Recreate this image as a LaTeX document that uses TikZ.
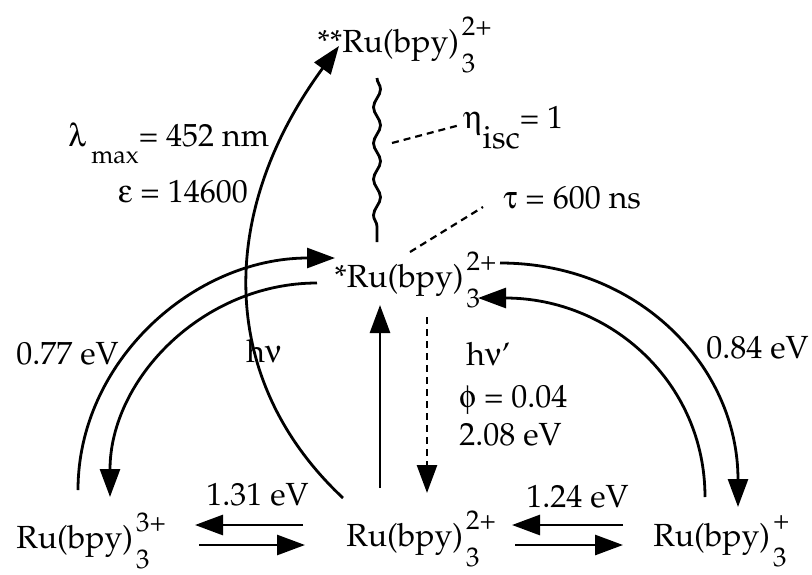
\documentclass[tikz,border=0pt]{standalone}
\usepackage[T1]{fontenc}
\usepackage{mathpazo}
\usepackage[Symbol]{upgreek}
\usetikzlibrary{arrows.meta,decorations.pathmorphing}

\newcommand{\chg}{\fontsize{27}{27}\selectfont}
\newcommand{\rubpy}[1]{Ru(bpy)\kern3pt{\chg\rlap{\raisebox{17pt}{#1}}\raisebox{-20pt}{3}}}

\begin{document}
\begin{tikzpicture}[x=1pt,y=-1pt,line width=2.8pt,
  lbl/.style={anchor=base west,inner sep=0pt,font=\fontsize{32}{38}\selectfont},
  arr/.style={-{Triangle[length=28pt,width=20pt]}},
  dsh/.style={dash pattern=on 7pt off 5pt,line width=2.2pt}
]
\useasboundingbox (0,0) rectangle (812,574);

% species
\node[lbl] (ss)  at (316,52)  {**\rubpy{2+}};
\node[lbl] (ex)  at (333,287) {*\rubpy{2+}};
\node[lbl] (ox)  at (15,548)  {\rubpy{3+}};
\node[lbl] (gs)  at (345,546) {\rubpy{2+}};
\node[lbl] (red) at (652,546) {\rubpy{+}};

% labels
\node[lbl] (lam)  at (67,146)  {$\uplambda$\,\raisebox{-17pt}{\fontsize{25}{25}\selectfont max}= 452 nm};
\node[lbl] (eps)  at (117,202) {$\upepsilon$ = 14600};
\node[lbl] (eta)  at (462,128) {$\upeta$\raisebox{-20pt}{isc}= 1};
\node[lbl] (tau)  at (502,208) {$\uptau$ = 600 ns};
\node[lbl] (e077) at (15,364)  {0.77 eV};
\node[lbl] (hv)   at (245,362) {h$\upnu$};
\node[lbl] (hvp)  at (465,365) {h$\upnu$'};
\node[lbl] (phi)  at (458,407) {$\upphi$ = 0.04};
\node[lbl] (e208) at (458,445) {2.08 eV};
\node[lbl] (e084) at (705,358) {0.84 eV};
\node[lbl] (e131) at (205,505) {1.31 eV};
\node[lbl] (e124) at (525,507) {1.24 eV};

% end points
\coordinate (oxUp)  at (78,490);
\coordinate (exIn)  at (335,258);
\coordinate (exOut) at (317,283);
\coordinate (oxIn)  at (110,497);
\coordinate (gsAbs) at (343,498);
\coordinate (ssIn)  at (339,46);
\coordinate (exR)   at (500,263);
\coordinate (redIn) at (738,507);
\coordinate (redUp) at (705,497);
\coordinate (exR3)  at (478,298);
\coordinate (gsUp)  at (380,488);
\coordinate (exDn)  at (380,305);
\coordinate (exEm)  at (427,317);
\coordinate (gsEm)  at (427,493);
\coordinate (iscT)  at (377,78);
\coordinate (iscB)  at (377,242);
\coordinate (iscM)  at (392,143);
\coordinate (etaL)  at (460,125);
\coordinate (exTop) at (410,252);
\coordinate (tauL)  at (483,207);

% ISC
\draw[decorate,decoration={snake,segment length=36pt,amplitude=3.5pt}] (iscT) -- (iscB);
\draw[dsh] (iscM) -- (etaL);
\draw[dsh] (exTop) -- (tauL);

% absorption, emission
\draw[arr] (gsAbs) .. controls (217,380) and (217,212) .. (ssIn);
\draw[arr] (gsUp) -- (exDn);
\draw[arr,dsh,line width=2.8pt] (exEm) -- (gsEm);

% left cycle
\draw[arr] (oxUp) .. controls (78,362) and (193,258) .. (exIn);
\draw[arr] (exOut) .. controls (203,283) and (110,379) .. (oxIn);

% right cycle
\draw[arr] (exR) .. controls (638,263) and (738,366) .. (redIn);
\draw[arr] (redUp) .. controls (705,382) and (610,298) .. (exR3);

% equilibria
\draw[arr] (303,525) -- (195,525);
\draw[arr] (199,545) -- (305,545);
\draw[arr] (623,525) -- (512,525);
\draw[arr] (515,545) -- (623,545);
\end{tikzpicture}
\end{document}
